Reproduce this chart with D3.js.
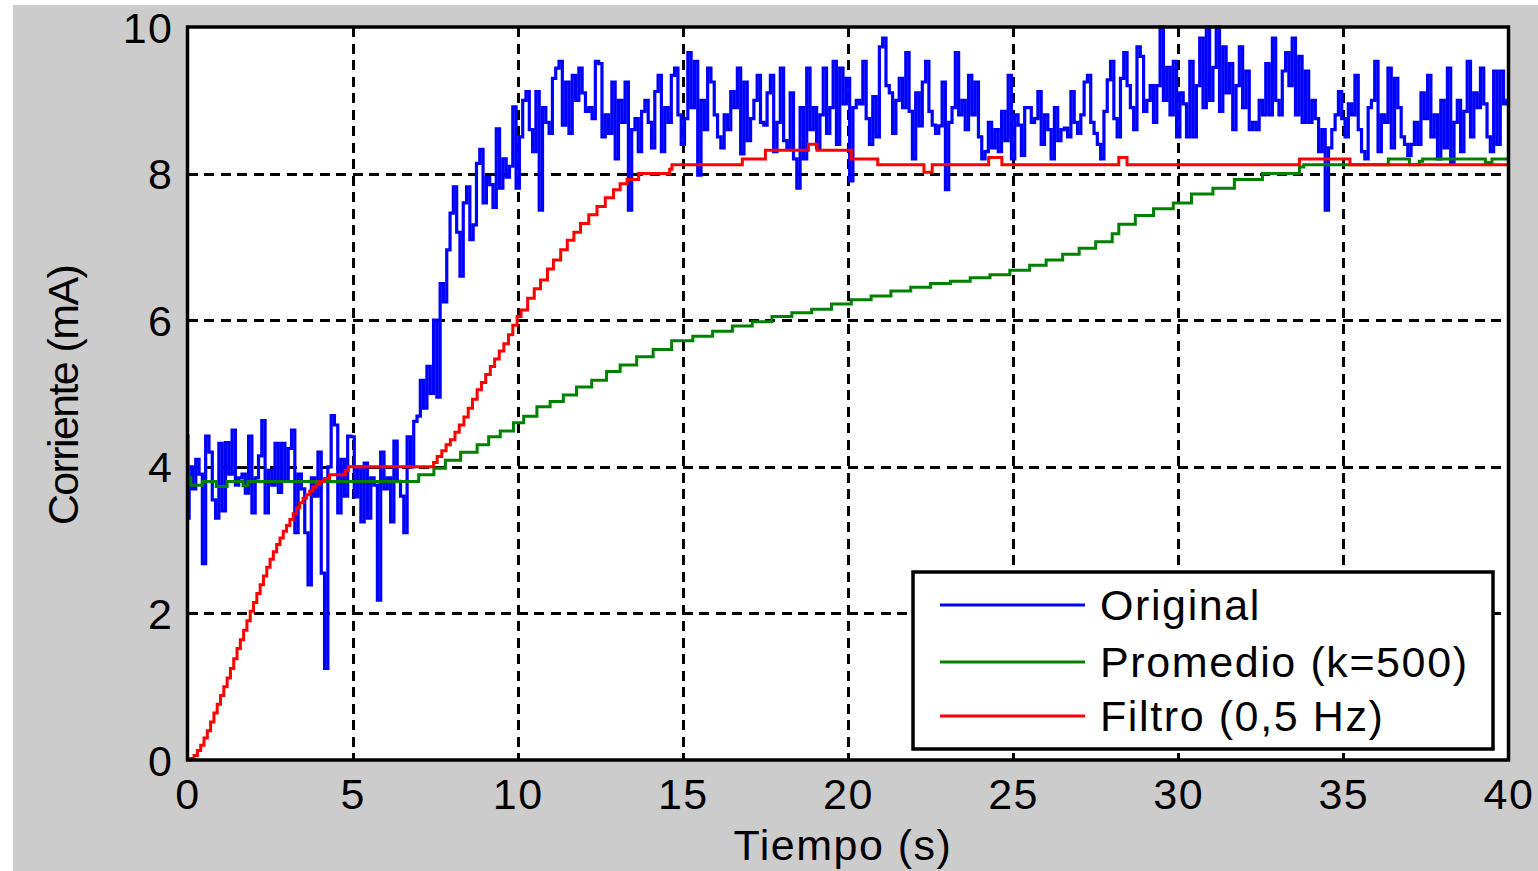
<!DOCTYPE html>
<html>
<head>
<meta charset="utf-8">
<script src="https://cdn.jsdelivr.net/npm/d3@7"></script>
<style>
  html, body { margin: 0; padding: 0; background: #ffffff; }
  svg { display: block; }
  text { font-family: "Liberation Sans", Arial, sans-serif; fill: #000; }
</style>
</head>
<body>
<svg id="chart" width="1538" height="871"></svg>
<script>
// Sampling period of the raw current signal (s)
const tiempoMuestra = 0.1;

// Raw measured current (mA), one value per sample
const original = [
  3.3, 4.0, 3.7, 4.1, 3.9, 2.68, 4.42, 4.2, 3.55, 3.3,
  4.32, 3.4, 4.33, 3.9, 4.5, 3.75, 3.85, 3.9, 3.64, 4.42,
  3.37, 3.85, 4.15, 4.63, 3.37, 3.95, 3.75, 4.32, 3.65, 4.32,
  3.8, 4.25, 4.5, 3.1, 3.9, 3.7, 3.1, 2.39, 3.85, 3.6,
  4.2, 2.55, 1.25, 4.0, 4.7, 4.57, 3.37, 4.1, 3.6, 4.42,
  4.41, 3.59, 4.0, 3.25, 4.05, 3.3, 3.85, 3.75, 2.18, 4.2,
  3.7, 3.85, 3.25, 4.35, 3.8, 3.6, 3.1, 4.41, 4.0, 4.62,
  4.69, 5.18, 4.8, 5.37, 5.0, 6.0, 4.95, 6.5, 6.25, 6.96,
  7.46, 7.82, 7.2, 6.6, 7.6, 7.82, 7.1, 7.3, 8.14, 8.33,
  7.6, 7.95, 7.85, 7.54, 8.61, 7.8, 8.2, 7.95, 8.1, 8.91,
  7.8, 8.5, 9.0, 9.12, 8.6, 8.3, 9.12, 7.5, 8.9, 8.7,
  8.55, 9.3, 9.44, 9.53, 8.66, 9.25, 8.55, 9.34, 9.0, 9.44,
  9.1, 8.85, 8.9, 8.75, 9.53, 9.5, 8.5, 8.8, 8.55, 9.25,
  8.2, 9.0, 8.7, 9.25, 7.5, 8.6, 8.75, 8.3, 8.85, 9.0,
  8.7, 8.35, 9.12, 9.34, 8.3, 8.9, 8.7, 9.34, 9.44, 8.8,
  8.4, 8.75, 9.65, 8.9, 9.53, 7.98, 9.0, 8.6, 9.44, 9.25,
  8.8, 8.5, 8.35, 8.8, 8.6, 9.12, 8.9, 9.44, 8.27, 9.25,
  8.45, 8.75, 9.0, 9.34, 8.7, 8.66, 9.1, 9.34, 8.3, 8.7,
  9.44, 8.45, 8.35, 9.1, 8.2, 7.8, 8.9, 8.2, 9.44, 8.6,
  8.9, 8.35, 8.8, 9.44, 8.55, 8.9, 9.53, 8.4, 9.44, 8.95,
  9.3, 7.9, 8.9, 9.0, 8.95, 9.53, 8.75, 8.4, 9.05, 8.5,
  9.73, 9.85, 9.2, 9.1, 8.55, 9.0, 9.3, 8.9, 9.65, 8.85,
  8.2, 9.1, 8.65, 9.25, 9.53, 8.85, 8.66, 8.55, 8.65, 9.25,
  7.78, 8.7, 8.9, 9.65, 8.8, 9.0, 8.6, 9.34, 8.8, 9.25,
  8.5, 8.2, 8.3, 8.7, 8.35, 8.6, 8.3, 8.85, 8.45, 9.34,
  8.2, 8.8, 8.66, 8.25, 8.9, 8.9, 8.7, 8.75, 9.12, 8.4,
  8.8, 8.6, 8.2, 8.9, 8.45, 8.6, 8.62, 8.5, 9.12, 8.7,
  8.55, 8.8, 9.25, 9.34, 8.7, 8.55, 8.4, 8.2, 8.85, 9.28,
  9.53, 8.75, 8.5, 9.3, 9.65, 9.2, 8.9, 8.6, 9.73, 9.6,
  8.85, 9.0, 9.2, 8.7, 9.2, 10.0, 9.0, 9.45, 8.8, 9.53,
  8.5, 9.1, 8.95, 8.5, 9.53, 8.5, 9.2, 9.85, 8.9, 10.0,
  9.0, 9.45, 10.0, 8.85, 9.73, 9.1, 9.5, 8.6, 9.2, 9.73,
  8.9, 9.4, 8.6, 8.7, 8.6, 9.0, 8.8, 9.5, 8.8, 9.85,
  9.0, 8.8, 9.4, 9.65, 9.2, 9.85, 8.8, 9.6, 8.7, 9.4,
  8.7, 9.0, 8.75, 8.3, 8.6, 7.5, 8.35, 8.6, 8.8, 9.12,
  8.75, 8.5, 8.95, 8.8, 9.34, 8.6, 8.3, 8.2, 8.9, 9.0,
  9.53, 8.3, 8.8, 8.7, 9.44, 8.35, 9.3, 8.9, 8.5, 8.4,
  8.25, 8.4, 8.7, 8.4, 9.1, 8.75, 9.34, 8.5, 8.8, 8.2,
  9.0, 8.35, 9.44, 8.15, 8.7, 9.0, 8.3, 8.85, 9.53, 8.5,
  9.1, 8.9, 9.44, 8.95, 8.5, 8.3, 9.4, 8.4, 9.4, 8.95,
  9.0
];

// Moving average (k = 500): instants where the held value changes and the value held
const promedioT = [0, 0.02, 0.1, 0.45, 0.87, 1.2, 1.68, 1.83, 7.0, 7.46, 7.81, 8.27, 8.77,
  9.12, 9.47, 9.87, 10.18, 10.58, 10.98, 11.38, 11.78, 12.24, 12.69, 13.1, 13.6, 14.1,
  14.66, 15.3, 15.9, 16.5, 17.1, 17.7, 18.3, 18.9, 19.5, 20.1, 20.7, 21.3, 21.9, 22.5,
  23.1, 23.7, 24.3, 24.9, 25.5, 26.0, 26.5, 27.0, 27.5, 28.0, 28.2, 28.7, 29.25, 29.85,
  30.4, 31.05, 31.7, 32.55, 33.67, 33.8, 36.36, 37.0, 37.3, 37.4, 39.3, 39.5, 40];
const promedioV = [4.42, 3.85, 3.75, 3.8, 3.73, 3.8, 3.74, 3.8, 3.89, 3.98, 4.09, 4.2, 4.3,
  4.41, 4.49, 4.6, 4.69, 4.82, 4.89, 4.98, 5.09, 5.18, 5.3, 5.39, 5.5, 5.6,
  5.72, 5.78, 5.85, 5.92, 5.98, 6.05, 6.1, 6.15, 6.22, 6.28, 6.33, 6.4, 6.45, 6.5,
  6.53, 6.58, 6.62, 6.68, 6.75, 6.82, 6.9, 6.98, 7.07, 7.18, 7.31, 7.43, 7.52, 7.6,
  7.72, 7.8, 7.92, 8.0, 8.09, 8.12, 8.2, 8.12, 8.17, 8.2, 8.15, 8.2, 8.2];

// Low-pass filter output (0.5 Hz), quantised: change instants and held values
const filtroT = [0, 0.1, 0.2, 0.3, 0.4, 0.5, 0.6, 0.7, 0.8, 0.9, 1.0, 1.1, 1.2, 1.3, 1.4,
  1.5, 1.6, 1.7, 1.8, 1.9, 2.0, 2.1, 2.2, 2.3, 2.4, 2.5, 2.6, 2.7, 2.8, 2.9, 3.0, 3.1,
  3.2, 3.3, 3.4, 3.5, 3.6, 3.7, 3.8, 3.9, 4.0, 4.15, 4.3, 4.78, 4.87,
  7.36, 7.45, 7.56, 7.7, 7.83, 7.96, 8.1, 8.23, 8.37, 8.5, 8.63, 8.77, 8.9, 9.03, 9.17,
  9.3, 9.44, 9.58, 9.72, 9.85, 9.98, 10.1, 10.3, 10.5, 10.69, 10.9, 11.08, 11.3, 11.5,
  11.7, 11.9, 12.15, 12.4, 12.65, 12.9, 13.1, 13.31, 13.66, 14.52, 14.6, 14.67,
  16.8, 17.5, 18.8, 19.06, 20.1, 20.9, 22.3, 22.55, 24.26, 24.66, 28.2, 28.45,
  33.67, 35.2, 40];
const filtroV = [0, 0.02, 0.06, 0.13, 0.2, 0.3, 0.4, 0.52, 0.64, 0.76, 0.88, 1.0, 1.12, 1.25,
  1.38, 1.52, 1.64, 1.77, 1.9, 2.03, 2.15, 2.27, 2.39, 2.51, 2.63, 2.74, 2.84, 2.94,
  3.03, 3.12, 3.2, 3.28, 3.36, 3.44, 3.51, 3.57, 3.62, 3.67, 3.72, 3.76, 3.8, 3.84,
  3.89, 3.95, 4.0,
  4.0, 4.06, 4.14, 4.22, 4.3, 4.37, 4.47, 4.57, 4.68, 4.8, 4.92, 5.05, 5.15, 5.26, 5.37,
  5.47, 5.58, 5.68, 5.8, 5.93, 6.05, 6.14, 6.3, 6.43, 6.55, 6.7, 6.82, 6.96, 7.09,
  7.2, 7.32, 7.44, 7.55, 7.67, 7.78, 7.86, 7.92, 8.0, 8.0, 8.06, 8.12,
  8.2, 8.32, 8.4, 8.32, 8.2, 8.12, 8.02, 8.12, 8.22, 8.12, 8.22, 8.12,
  8.2, 8.12, 8.12];

const xTicks = [0, 5, 10, 15, 20, 25, 30, 35, 40];
const yTicks = [0, 2, 4, 6, 8, 10];
const leyenda = ["Original", "Promedio (k=500)", "Filtro (0,5 Hz)"];
const colores = ["#0000ff", "#008000", "#ff0000"];

const svg = d3.select("#chart");

// Figure background
svg.append("rect").attr("x", 13).attr("y", 5).attr("width", 1525).attr("height", 866)
  .attr("fill", "#cccccc");

const x = d3.scaleLinear().domain([0, 40]).range([187.5, 1508.5]);
const y = d3.scaleLinear().domain([0, 10]).range([760, 27]);

// Plot area
svg.append("rect").attr("x", x(0)).attr("y", y(10))
  .attr("width", x(40) - x(0)).attr("height", y(0) - y(10)).attr("fill", "#ffffff");

// Dashed grid
const grid = svg.append("g").attr("stroke", "#000").attr("stroke-width", 3)
  .attr("stroke-dasharray", "10,6.5").attr("shape-rendering", "crispEdges");
grid.selectAll("line.gx").data(xTicks.slice(1, -1)).join("line").attr("class", "gx")
  .attr("x1", d => Math.round(x(d)) + 0.5).attr("x2", d => Math.round(x(d)) + 0.5)
  .attr("y1", y(10)).attr("y2", y(0));
grid.selectAll("line.gy").data(yTicks.slice(1, -1)).join("line").attr("class", "gy")
  .attr("x1", x(0)).attr("x2", x(40))
  .attr("y1", d => Math.round(y(d)) + 0.5).attr("y2", d => Math.round(y(d)) + 0.5);

const plot = svg.append("g");

// Raw signal, drawn as held samples
const serieOriginal = original.map((v, i) => [i * tiempoMuestra, v]);
plot.append("path").datum(serieOriginal)
  .attr("fill", "none").attr("stroke", colores[0]).attr("stroke-width", 3.2)
  .attr("d", d3.line().curve(d3.curveStep).x(d => x(d[0])).y(d => y(d[1])));

// Moving average (held steps)
const seriePromedio = promedioT.map((t, i) => [t, promedioV[i]]);
plot.append("path").datum(seriePromedio)
  .attr("fill", "none").attr("stroke", colores[1]).attr("stroke-width", 3)
  .attr("d", d3.line().curve(d3.curveStepAfter).x(d => x(d[0])).y(d => y(d[1])));

// Filtered signal (held steps)
const serieFiltro = filtroT.map((t, i) => [t, filtroV[i]]);
plot.append("path").datum(serieFiltro)
  .attr("fill", "none").attr("stroke", colores[2]).attr("stroke-width", 3)
  .attr("d", d3.line().curve(d3.curveStepAfter).x(d => x(d[0])).y(d => y(d[1])));

// Axes box
svg.append("rect").attr("x", x(0)).attr("y", y(10))
  .attr("width", x(40) - x(0)).attr("height", y(0) - y(10))
  .attr("fill", "none").attr("stroke", "#000").attr("stroke-width", 3.5);

// Tick labels through d3 axes (lines hidden, labels kept)
const fontSize = 43;
const ejeX = svg.append("g").attr("transform", `translate(0,${y(0)})`)
  .call(d3.axisBottom(x).tickValues(xTicks).tickSize(0).tickPadding(0).tickFormat(d3.format("d")));
ejeX.select(".domain").remove();
ejeX.selectAll("text").attr("font-size", fontSize).attr("dy", null).attr("y", 49)
  .style("letter-spacing", "1.5px").attr("font-family", null);

const ejeY = svg.append("g").attr("transform", `translate(${x(0)},0)`)
  .call(d3.axisLeft(y).tickValues(yTicks).tickSize(0).tickPadding(0).tickFormat(d3.format("d")));
ejeY.select(".domain").remove();
ejeY.selectAll("text").attr("font-size", fontSize).attr("dy", null).attr("x", -14)
  .attr("y", 15).style("letter-spacing", "1.5px").attr("font-family", null);

// Axis titles
svg.append("text").attr("x", 843).attr("y", 860)
  .attr("text-anchor", "middle").attr("font-size", fontSize)
  .style("letter-spacing", "1.5px").text("Tiempo (s)");
svg.append("text").attr("transform", `translate(78,${(y(0) + y(10)) / 2 + 2}) rotate(-90)`)
  .attr("text-anchor", "middle").attr("font-size", fontSize)
  .style("letter-spacing", "-1.6px").text("Corriente (mA)");

// Legend
const leg = svg.append("g");
leg.append("rect").attr("x", 913).attr("y", 572).attr("width", 580).attr("height", 177)
  .attr("fill", "#ffffff").attr("stroke", "#000").attr("stroke-width", 3.5);
const filasY = [605, 662, 716];
leyenda.forEach((nombre, i) => {
  leg.append("line").attr("x1", 940).attr("x2", 1085).attr("y1", filasY[i]).attr("y2", filasY[i])
    .attr("stroke", colores[i]).attr("stroke-width", 3);
  leg.append("text").attr("x", 1100).attr("y", filasY[i] + 15)
    .attr("font-size", fontSize).style("letter-spacing", "1.6px").text(nombre);
});
</script>
</body>
</html>
